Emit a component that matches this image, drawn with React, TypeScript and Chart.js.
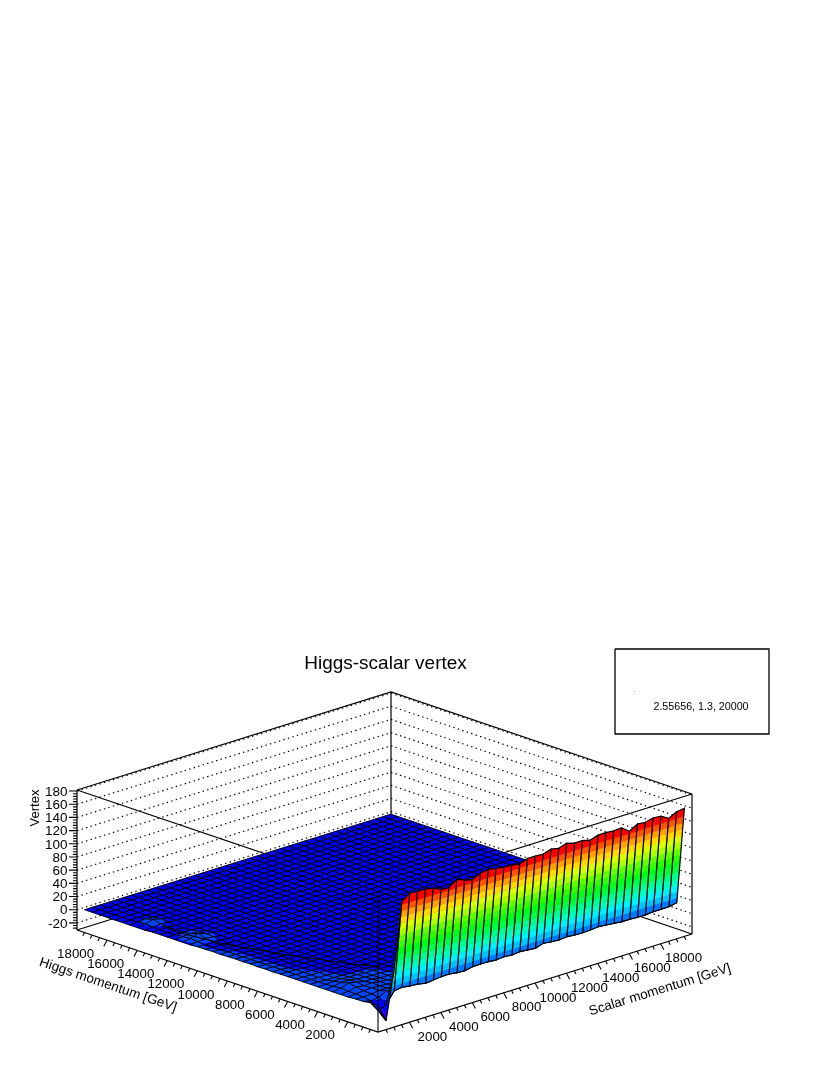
import { useEffect, useRef } from 'react';
import { Chart, registerables } from 'chart.js';

Chart.register(...registerables);

// ---- chart text ----
const chartTitle = 'Higgs-scalar vertex';
const xAxisTitle = 'Scalar momentum [GeV]';
const yAxisTitle = 'Higgs momentum [GeV]';
const zAxisTitle = 'Vertex';
const paveText = '2.55656, 1.3, 20000';

// ---- axes ----
const axisMax = 20000;
const zMin = -30.8;
const zMax = 181.6;
const momentumLabels = [2000, 4000, 6000, 8000, 10000, 12000, 14000, 16000, 18000];
const zLabels = [-20, 0, 20, 40, 60, 80, 100, 120, 140, 160, 180];

// ---- surface values: bins of 500 GeV, 40 by 40 ----
const binCount = 40;
const binWidth = 500;
// row nearest the Scalar axis (the high wall)
const wallTop = [5, -21, 50, 152, 161, 160, 160, 158, 152, 151, 160, 155, 152, 158, 160, 158, 156, 155.5, 153, 158, 158, 157, 161, 158.6, 162.5, 159, 159, 156, 160, 160, 159, 160, 151, 158, 157, 160, 159, 152, 158, 160];
// next row (the foot of the wall)
const wallBase = [6, -10, -4, 13, 14.5, 12.8, 12, 9.4, 10.8, 12, 12.4, 10.6, 10, 12.3, 12.7, 12.5, 11.4, 12.6, 11.5, 12.8, 11.7, 10.5, 14.4, 13, 12, 13.2, 12, 11.8, 12.3, 13.5, 12.4, 11.2, 10, 9.9, 9.2, 9, 10.3, 10.2, 10.5, 12.8];
// rows 2, 3, 4 fall off slowly behind the wall
const behindWall = [9, 5.5, 2];
// first columns of rows 2.. (the rest of each row stays at 0)
const frontRows = [
  [4, 1, 3, 4, 3, 3, 2, 2, 2, 2],
  [4, 3, 4, 4, 4, 3, 3, 2, 2, 2],
  [3, 4, 5, 6, 5, 4, 3, 3, 2, 2],
  [3, 4, 7, 5, 6, 4, 3, 2, 2, 1],
  [3, 5, 9, 7, 4, 4, 2, 2, 2, 1],
  [3, 4, 6, 6, 4, 3, 2, 2, 1, 1],
  [3, 3, 4, 4, 3, 3, 2, 2, 1, 1],
  [3, 3, 2, 2, 2, 1, 1, 1, 0, 0],
  [3, 2.5, 2, 2, 1, 1, 1, 0, 0, 0],
  [3, 2.5, 2, 2, 1, 1, 0, 0, 0, 0],
  [3, 2.5, 2, 1, 1, 1, 0, 0, 0, 0],
  [3, 2.5, 2, 1, 1, 0, 0, 0, 0, 0],
  [2.5, 2.5, 1, 1, 1, 0, 0, 0, 0, 0],
  [3, 2.5, 1, 1, 0, 0, 0, 0, 0, 0],
  [2.5, 2.5, 1, 1, 0, 0, 0, 0, 0, 0],
  [3, 2, 1, 1, 0, 0, 0, 0, 0, 0],
  [2.5, 2, 1, 0, 0, 0, 0, 0, 0, 0],
  [3, 2, 1, 0, 0, 0, 0, 0, 0, 0],
  [2.5, 2, 1, 0, 0, 0, 0, 0, 0, 0],
  [2, 2, 1, 0, 0, 0, 0, 0, 0, 0],
  [2.5, 1, 1, 0, 0, 0, 0, 0, 0, 0],
  [2, 1, 1, 0, 0, 0, 0, 0, 0, 0],
  [2, 1, 1, 1, 0, 0, 0, 0, 0, 0],
  [1, 2, 3, 2, 0, 0, 0, 0, 0, 0],
  [1, 3, 7, 3, 1, 0, 0, 0, 0, 0],
  [1, 2, 3, 2, 0, 0, 0, 0, 0, 0],
  [1, 1, 1, 1, 0, 0, 0, 0, 0, 0],
  [1, 0, 1, 0, 0, 0, 0, 0, 0, 0],
  [1, 1, 1, 0, 0, 0, 0, 0, 0, 0],
  [0, 1, 2, 1, 0, 0, 0, 0, 0, 0],
  [0, 2, 5, 2, 0, 0, 0, 0, 0, 0],
  [0, 1, 2, 1, 0, 0, 0, 0, 0, 0],
];
// dark fold that runs across the surface
const foldX = [1224, 1134, 1484, 2530, 3840, 4470];
const foldY = [15628, 14540, 12046, 8686, 5666, 4530];

// ---- colour bands of the surface ----
const bandHues = [280, 269, 251, 240, 223, 211, 194, 183, 166, 154, 137, 126, 109, 97, 80, 69, 51, 38, 20, 0];
const firstBandLevel = -37.3;
const bandStep = 9.7;

// ---- where the box sits in the picture ----
const cornerFront = [378, 1032];
const cornerHiggs = [77, 930];
const cornerScalar = [692, 934];
const boxHeight = 140;

type P = { x: number; y: number };
type V = [number, number, number];

const project = (xv: number, yv: number, zv: number): P => ({
  x: cornerFront[0] + (xv / axisMax) * (cornerScalar[0] - cornerFront[0]) + (yv / axisMax) * (cornerHiggs[0] - cornerFront[0]),
  y: cornerFront[1] + (xv / axisMax) * (cornerScalar[1] - cornerFront[1]) + (yv / axisMax) * (cornerHiggs[1] - cornerFront[1]) - ((zv - zMin) / (zMax - zMin)) * boxHeight,
});

const GAP: P = { x: NaN, y: NaN };

function surfaceRow(j: number): number[] {
  if (j === 0) return wallTop;
  if (j === 1) return wallBase;
  const row = new Array(binCount).fill(0);
  const behind = behindWall[j - 2];
  if (behind !== undefined) for (let i = 3; i < binCount; i++) row[i] = behind;
  const front = frontRows[j - 2];
  if (front) front.forEach((v, i) => (row[i] = Math.max(v, row[i])));
  return row;
}

function clipAbove(poly: V[], level: number, keepAbove: boolean): V[] {
  const out: V[] = [];
  for (let n = 0; n < poly.length; n++) {
    const a = poly[n];
    const b = poly[(n + 1) % poly.length];
    const ina = keepAbove ? a[2] >= level : a[2] <= level;
    const inb = keepAbove ? b[2] >= level : b[2] <= level;
    if (ina) out.push(a);
    if (ina !== inb) {
      const t = (level - a[2]) / (b[2] - a[2]);
      out.push([a[0] + t * (b[0] - a[0]), a[1] + t * (b[1] - a[1]), level]);
    }
  }
  return out;
}

function buildDatasets() {
  const list: any[] = [];
  const stroke = (data: P[], width: number, dash?: number[]) =>
    list.push({ data, showLine: true, fill: false, borderColor: '#000', borderWidth: width, borderDash: dash || [], pointRadius: 0, clip: false });
  const edge = (a: number[], b: number[], za: number, zb: number): P[] => [project(a[0], a[1], za), project(b[0], b[1], zb)];

  const far = [axisMax, axisMax];
  const lft = [0, axisMax];
  const rgt = [axisMax, 0];
  const frt = [0, 0];

  // dotted grid on the two back walls
  const grid: P[] = [];
  zLabels.forEach((z) => {
    grid.push(project(0, axisMax, z), project(axisMax, axisMax, z), GAP);
    grid.push(project(axisMax, axisMax, z), project(axisMax, 0, z), GAP);
  });
  stroke(grid, 1.2, [1.4, 3.3]);

  // back of the box
  stroke([...edge(lft, far, zMax, zMax), project(rgt[0], rgt[1], zMax)], 1.2);
  stroke(edge(far, far, zMin, zMax), 1.2);
  stroke(edge(lft, lft, zMin, zMax), 1.2);
  stroke(edge(rgt, rgt, zMin, zMax), 1.2);
  stroke([...edge(lft, far, zMin, zMin), project(rgt[0], rgt[1], zMin)], 1.2);
  // upper front edges go behind the surface
  stroke([...edge(lft, frt, zMax, zMax), project(rgt[0], rgt[1], zMax)], 1.2);

  // surface, far cells first
  const cells: number[][] = [];
  for (let j = 0; j < binCount - 1; j++) for (let i = 0; i < binCount - 1; i++) cells.push([i, j]);
  cells.sort((a, b) => b[0] + b[1] - (a[0] + a[1]));
  const rows = Array.from({ length: binCount }, (_, j) => surfaceRow(j));
  const pos = (n: number) => (n + 0.5) * binWidth;
  cells.forEach(([i, j]) => {
    const quad: V[] = [
      [pos(i), pos(j), rows[j][i]],
      [pos(i + 1), pos(j), rows[j][i + 1]],
      [pos(i + 1), pos(j + 1), rows[j + 1][i + 1]],
      [pos(i), pos(j + 1), rows[j + 1][i]],
    ];
    bandHues.forEach((hue, k) => {
      let poly = quad;
      if (k > 0) poly = clipAbove(poly, firstBandLevel + k * bandStep, true);
      if (poly.length && k < bandHues.length - 1) poly = clipAbove(poly, firstBandLevel + (k + 1) * bandStep, false);
      if (poly.length < 3) return;
      const color = `hsl(${hue},100%,50%)`;
      const data = poly.map((v) => project(v[0], v[1], v[2]));
      data.push(data[0]);
      list.push({ data, showLine: true, fill: 'shape', backgroundColor: color, borderColor: color, borderWidth: 0.5, pointRadius: 0, clip: false });
    });
    const outline = quad.map((v) => project(v[0], v[1], v[2]));
    outline.push(outline[0]);
    stroke(outline, j === 0 ? 1.2 : 0.9);
  });

  // fold over the mesh
  stroke(foldX.map((x, n) => project(x, foldY[n], 0)), 1.2);

  // front edge and the two floor axes
  stroke(edge(frt, frt, zMin, zMax), 1.1);
  stroke([...edge(lft, frt, zMin, zMin), project(rgt[0], rgt[1], zMin)], 1.3);

  // ticks
  const xTicks: P[] = [];
  const yTicks: P[] = [];
  for (let v = 500; v < axisMax; v += 500) {
    const big = v % 2000 === 0;
    const a = project(v, 0, zMin);
    xTicks.push(a, { x: a.x + (big ? 3.3 : 1.7), y: a.y + (big ? 6 : 3.3) }, GAP);
    const b = project(0, v, zMin);
    yTicks.push(b, { x: b.x - (big ? 3.3 : 1.7), y: b.y + (big ? 6 : 3.3) }, GAP);
  }
  stroke(xTicks, 1.1);
  stroke(yTicks, 1.1);
  const zTicks: P[] = [];
  for (let z = -28; z <= 180; z += 4) {
    const a = project(0, axisMax, z);
    zTicks.push(a, { x: a.x - (z % 20 === 0 ? 8 : 4), y: a.y }, GAP);
  }
  stroke(zTicks, 1.1);

  // statistics box
  stroke([{ x: 615, y: 649 }, { x: 769, y: 649 }, { x: 769, y: 734 }, { x: 615, y: 734 }, { x: 615, y: 649 }], 1.3);
  list.push({ data: [{ x: 634.5, y: 691.5 }], showLine: false, pointRadius: 0.5, pointBackgroundColor: '#777', pointBorderWidth: 0, clip: false });

  list.forEach((d, n) => (d.order = list.length - n));
  return list;
}

const FONT = '"Liberation Sans", Arial, sans-serif';

const textPlugin = {
  id: 'boxText',
  afterDraw(chart: any) {
    const { ctx, scales } = chart;
    const px = (p: P) => ({ x: scales.x.getPixelForValue(p.x), y: scales.y.getPixelForValue(p.y) });
    const put = (s: string, p: P, size: number, align: CanvasTextAlign, angle = 0) => {
      const q = px(p);
      ctx.save();
      ctx.translate(q.x, q.y);
      ctx.rotate((angle * Math.PI) / 180);
      ctx.font = `${size}px ${FONT}`;
      ctx.fillStyle = '#000';
      ctx.textAlign = align;
      ctx.textBaseline = 'middle';
      ctx.fillText(s, 0, 0);
      ctx.restore();
    };
    momentumLabels.forEach((v) => {
      const a = project(v, 0, zMin);
      put(String(v), { x: a.x + 23, y: a.y + 15 }, 13.3, 'center');
      const b = project(0, v, zMin);
      put(String(v), { x: b.x - 13, y: b.y + 14 }, 13.3, 'right');
    });
    zLabels.forEach((z) => {
      const a = project(0, axisMax, z);
      put(String(z), { x: a.x - 9.5, y: a.y + 1 }, 13.5, 'right');
    });
    put(zAxisTitle, { x: 35, y: 808 }, 13, 'center', -90);
    put(yAxisTitle, { x: 108, y: 985 }, 13.5, 'center', 18.7);
    put(xAxisTitle, { x: 660, y: 990 }, 13.5, 'center', -17.3);
    put(paveText, { x: 701, y: 707.5 }, 10.7, 'center');
  },
};

export default function App() {
  const ref = useRef<HTMLCanvasElement | null>(null);
  useEffect(() => {
    if (!ref.current) return;
    const chart = new Chart(ref.current, {
      type: 'scatter',
      data: { datasets: buildDatasets() },
      plugins: [textPlugin],
      options: {
        animation: false,
        responsive: false,
        events: [],
        layout: { autoPadding: false, padding: { left: 0, right: 59, top: 0, bottom: 0 } },
        elements: { line: { tension: 0 } },
        scales: {
          x: { type: 'linear', display: false, min: 0, max: 771 },
          y: { type: 'linear', display: false, min: 682, max: 1075, reverse: true },
        },
        plugins: {
          legend: { display: false },
          tooltip: { enabled: false },
          title: {
            display: true,
            text: chartTitle,
            fullSize: false,
            color: '#000',
            font: { family: FONT, size: 19, weight: 'normal', lineHeight: 1.2 },
            padding: { top: 652.6, bottom: 6.6 },
          },
        },
      },
    } as any);
    return () => chart.destroy();
  }, []);
  return (
    <canvas
      ref={ref}
      width={830}
      height={1075}
      style={{ position: 'absolute', left: 0, top: 0, width: 830, height: 1075, display: 'block' }}
    />
  );
}
